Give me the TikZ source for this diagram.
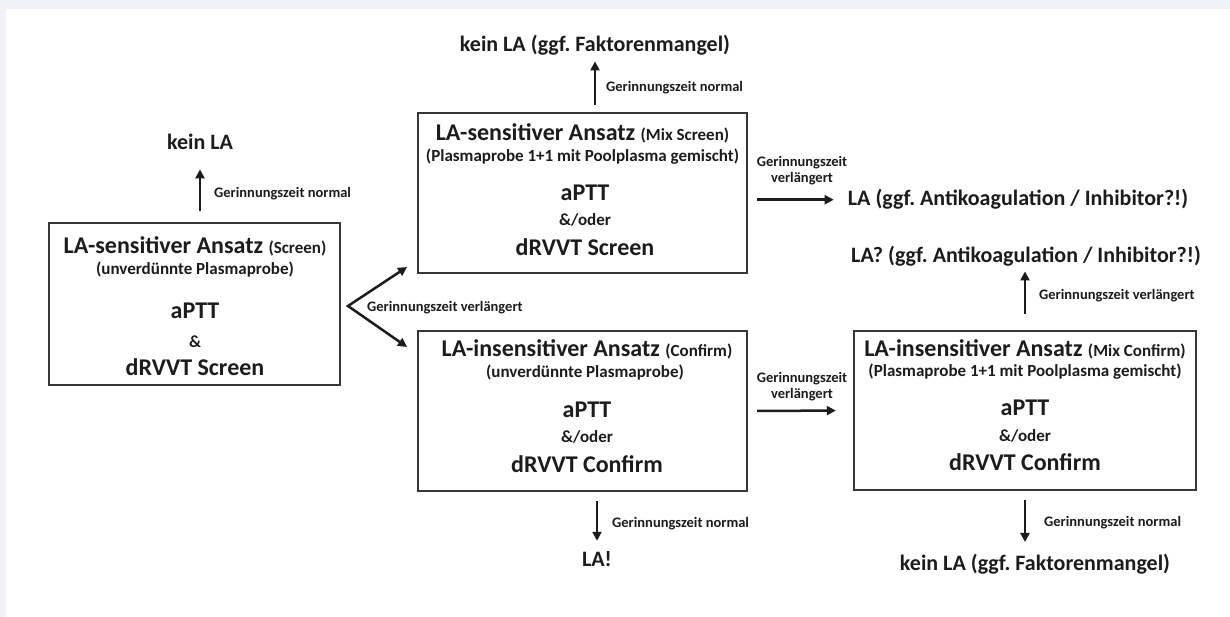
\documentclass[tikz,border=0pt]{standalone}
\usepackage{fontspec}
\setmainfont{Carlito}
\usetikzlibrary{arrows.meta,positioning}
\definecolor{pagegray}{RGB}{240,242,247}
\definecolor{ink}{RGB}{28,28,28}
\definecolor{boxline}{RGB}{55,55,55}
\newcommand{\tagtext}[1]{{\fontsize{17}{20}\selectfont #1}}
\frenchspacing

\begin{document}
\begin{tikzpicture}[x=1pt,y=-1pt,
	box/.style={draw=boxline, line width=2.4pt, inner sep=0pt},
	ttl/.style={font=\bfseries\fontsize{24}{28}\selectfont, text=ink, anchor=base, inner sep=0pt},
	sub/.style={font=\bfseries\fontsize{17}{20}\selectfont, text=ink, anchor=base, inner sep=0pt},
	res/.style={font=\bfseries\fontsize{22}{26}\selectfont, text=ink, anchor=base, inner sep=0pt},
	lab/.style={font=\bfseries\fontsize{14.5}{16}\selectfont, text=ink, anchor=base west, inner sep=0pt},
	flow/.style={-{Triangle[length=9pt,width=9pt]}, line width=2.5pt, draw=ink}]
	\useasboundingbox (0,0) rectangle (1230,617);
	\fill[pagegray] (0,0) rectangle (1230,617);
	\fill[white] (6,9) rectangle (1230,617);

	% boxes
	\node[box, minimum width=291pt, minimum height=162pt] (1) at (194.5,304) {};
	\node[box, minimum width=329pt, minimum height=160pt] (2) at (582.5,193) {};
	\node[box, minimum width=329pt, minimum height=160pt] (3) at (582.5,411) {};
	\node[box, minimum width=342pt, minimum height=159pt] (4) at (1025,410.5) {};

	% box texts
	\node[ttl] (1a) at (195,254) {LA-sensitiver Ansatz \tagtext{(Screen)}};
	\node[sub] (1b) at (195,274.5) {(unverdünnte Plasmaprobe)};
	\node[ttl] (1c) at (195,318.5) {aPTT};
	\node[sub] (1d) at (195,347.5) {\&};
	\node[ttl] (1e) at (195,375) {dRVVT Screen};

	\node[ttl] (2a) at (582.5,141) {LA-sensitiver Ansatz \tagtext{(Mix Screen)}};
	\node[sub] (2b) at (582.5,161.5) {(Plasmaprobe 1+1 mit Poolplasma gemischt)};
	\node[ttl] (2c) at (585,200.5) {aPTT};
	\node[sub] (2d) at (585,225.5) {\&/oder};
	\node[ttl] (2e) at (585,255.5) {dRVVT Screen};

	\node[ttl] (3a) at (587,356) {LA-insensitiver Ansatz \tagtext{(Confirm)}};
	\node[sub] (3b) at (585,377.5) {(unverdünnte Plasmaprobe)};
	\node[ttl] (3c) at (587,417.5) {aPTT};
	\node[sub] (3d) at (587,442.5) {\&/oder};
	\node[ttl] (3e) at (587,472.5) {dRVVT Confirm};

	\node[ttl] (4a) at (1025,356) {LA-insensitiver Ansatz \tagtext{(Mix Confirm)}};
	\node[sub] (4b) at (1025,376.5) {(Plasmaprobe 1+1 mit Poolplasma gemischt)};
	\node[ttl] (4c) at (1025,415.5) {aPTT};
	\node[sub] (4d) at (1025,441.5) {\&/oder};
	\node[ttl] (4e) at (1025,470.5) {dRVVT Confirm};

	% results
	\node[res] (5) at (200,150) {kein LA};
	\node[res] (6) at (595,52) {kein LA (ggf. Faktorenmangel)};
	\node[res] (7) at (1018,206) {LA (ggf. Antikoagulation / Inhibitor?!)};
	\node[res] (8) at (1026,263) {LA? (ggf. Antikoagulation / Inhibitor?!)};
	\node[res] (9) at (597,566) {LA!};
	\node[res] (10) at (1035,570) {kein LA (ggf. Faktorenmangel)};

	% labels
	\node[lab] (11) at (214,198) {Gerinnungszeit normal};
	\node[lab] (12) at (606,92) {Gerinnungszeit normal};
	\node[lab] (13) at (367,311) {Gerinnungszeit verlängert};
	\node[lab, anchor=center, align=center] (14) at (802,171) {Gerinnungszeit\\verlängert};
	\node[lab, anchor=center, align=center] (15) at (802,387) {Gerinnungszeit\\verlängert};
	\node[lab] (16) at (1039,300) {Gerinnungszeit verlängert};
	\node[lab] (17) at (612,527) {Gerinnungszeit normal};
	\node[lab] (18) at (1044,526) {Gerinnungszeit normal};

	% fork
	\coordinate (fork) at (348,306);
	\coordinate (forkup) at (407,267);
	\coordinate (forkdown) at (407,347);

	\draw [flow, shorten <=11pt, shorten >=19pt] (5.south |- 1.north) to (5.south);
	\draw [flow, shorten <=7pt, shorten >=5.5pt] (6.south |- 2.north) to (6.south);
	\draw [flow, shorten <=9pt, shorten >=14pt] (2.east |- 7.west) to (7.west);
	\draw [flow, shorten <=9pt, shorten >=17pt] (3.east) to (4.west);
	\draw [flow, shorten <=16pt, shorten >=4.5pt] (4.north) to (4.north |- 8.south);
	\draw [flow, shorten <=9pt, shorten >=10pt] (9.north |- 3.south) to (9.north);
	\draw [flow, shorten <=9pt, shorten >=11.5pt] (4.south) to (4.south |- 10.north);
	\draw [flow, {Triangle[length=9pt,width=9pt]}-{Triangle[length=9pt,width=9pt]}, line join=miter] (forkup) -- (fork) -- (forkdown);
\end{tikzpicture}
\end{document}
